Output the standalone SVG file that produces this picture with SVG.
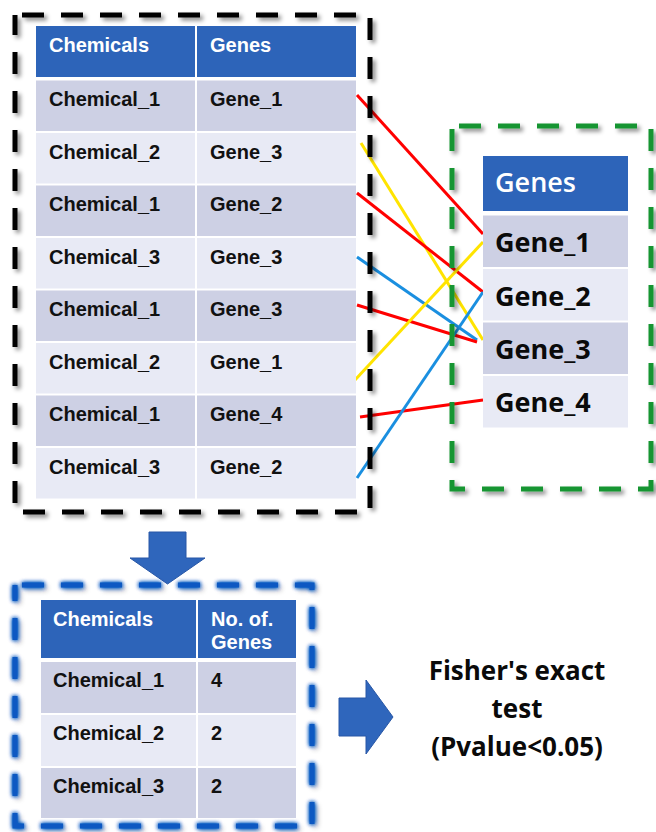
<svg xmlns="http://www.w3.org/2000/svg" width="656" height="832" viewBox="0 0 656 832">
  <defs>
    <style>
      .hdr { fill: #2D64B9; }
      .rowA { fill: #CDD0E4; }
      .rowB { fill: #E8EAF5; }
      .t { font-family: "Liberation Sans", Arial, sans-serif; font-weight: bold; font-size: 20px; fill: #111; }
      .th { font-family: "Liberation Sans", Arial, sans-serif; font-weight: bold; font-size: 20px; fill: #fff; }
      .g { font-family: "Open Sans", "Noto Sans", sans-serif; font-weight: bold; font-size: 27px; fill: #0a0a0a; }
      .gh { font-family: "Open Sans", "Noto Sans", sans-serif; font-weight: 600; font-size: 27px; fill: #fff; }
      .f { font-family: "Open Sans", "Noto Sans", sans-serif; font-weight: bold; font-size: 26px; fill: #0a0a0a; text-anchor: middle; }
      .frame { fill: none; stroke-width: 5; stroke-dasharray: 22 17; stroke-dashoffset: 32; }
      .link { stroke-width: 3; fill: none; }
      .red { stroke: #FF0000; }
      .yel { stroke: #FFE400; }
      .blu { stroke: #1A8FE0; }
      .block { fill: #2F66BC; stroke: #2857A6; stroke-width: 1; }
    </style>
    <filter id="shadow" x="-10%" y="-10%" width="125%" height="125%">
      <feDropShadow dx="3" dy="3" stdDeviation="2" flood-color="#000" flood-opacity="0.45"/>
    </filter>
    <filter id="glow" x="-10%" y="-10%" width="125%" height="125%">
      <feGaussianBlur in="SourceAlpha" stdDeviation="2.5" result="blur"/>
      <feOffset in="blur" dx="3" dy="3" result="off"/>
      <feFlood flood-color="#000" flood-opacity="0.35"/>
      <feComposite in2="off" operator="in" result="sh"/>
      <feGaussianBlur in="SourceGraphic" stdDeviation="2.2" result="halo"/>
      <feMerge>
        <feMergeNode in="sh"/>
        <feMergeNode in="halo"/>
        <feMergeNode in="halo"/>
        <feMergeNode in="SourceGraphic"/>
      </feMerge>
    </filter>
  </defs>

  <rect width="656" height="832" fill="#fff"/>

  <!-- links from chemical-gene pairs to the gene list -->
  <g id="connectors">
    <line class="link red" x1="357" y1="95" x2="483" y2="234"/>
    <line class="link yel" x1="361" y1="143" x2="483" y2="340"/>
    <line class="link red" x1="357" y1="193" x2="483" y2="292"/>
    <line class="link blu" x1="357" y1="257" x2="477" y2="340"/>
    <line class="link red" x1="357" y1="305" x2="477" y2="342"/>
    <line class="link yel" x1="355" y1="380" x2="483" y2="242"/>
    <line class="link red" x1="360" y1="417" x2="483" y2="400"/>
    <line class="link blu" x1="357" y1="478" x2="483" y2="292"/>
    <!-- block arrows -->
    <polygon id="arrow-down" class="block" points="149,532 186,532 186,558 205,558 167.5,584 130,558 149,558"/>
    <polygon id="arrow-right" class="block" points="339,698 366,698 366,680 393,717 366,754 366,736 339,736"/>
  </g>

  <!-- chemical / gene pair table -->
  <g id="pairs-table">
    <rect class="hdr" x="36" y="26" width="159" height="51"/>
    <rect class="hdr" x="197" y="26" width="159" height="51"/>
    <text class="th" x="49" y="52">Chemicals</text>
    <text class="th" x="210" y="52">Genes</text>

    <rect class="rowA" x="36" y="80.5" width="159" height="50.5"/>
    <rect class="rowA" x="197" y="80.5" width="159" height="50.5"/>
    <rect class="rowB" x="36" y="133" width="159" height="50.5"/>
    <rect class="rowB" x="197" y="133" width="159" height="50.5"/>
    <rect class="rowA" x="36" y="185.5" width="159" height="50.5"/>
    <rect class="rowA" x="197" y="185.5" width="159" height="50.5"/>
    <rect class="rowB" x="36" y="238" width="159" height="50.5"/>
    <rect class="rowB" x="197" y="238" width="159" height="50.5"/>
    <rect class="rowA" x="36" y="290.5" width="159" height="50.5"/>
    <rect class="rowA" x="197" y="290.5" width="159" height="50.5"/>
    <rect class="rowB" x="36" y="343" width="159" height="50.5"/>
    <rect class="rowB" x="197" y="343" width="159" height="50.5"/>
    <rect class="rowA" x="36" y="395.5" width="159" height="50.5"/>
    <rect class="rowA" x="197" y="395.5" width="159" height="50.5"/>
    <rect class="rowB" x="36" y="448" width="159" height="50.5"/>
    <rect class="rowB" x="197" y="448" width="159" height="50.5"/>

    <text class="t" x="49" y="106">Chemical_1</text><text class="t" x="210" y="106">Gene_1</text>
    <text class="t" x="49" y="158.5">Chemical_2</text><text class="t" x="210" y="158.5">Gene_3</text>
    <text class="t" x="49" y="211">Chemical_1</text><text class="t" x="210" y="211">Gene_2</text>
    <text class="t" x="49" y="263.5">Chemical_3</text><text class="t" x="210" y="263.5">Gene_3</text>
    <text class="t" x="49" y="316">Chemical_1</text><text class="t" x="210" y="316">Gene_3</text>
    <text class="t" x="49" y="368.5">Chemical_2</text><text class="t" x="210" y="368.5">Gene_1</text>
    <text class="t" x="49" y="421">Chemical_1</text><text class="t" x="210" y="421">Gene_4</text>
    <text class="t" x="49" y="473.5">Chemical_3</text><text class="t" x="210" y="473.5">Gene_2</text>

    <rect class="frame" x="15" y="15" width="355" height="497" stroke="#000" filter="url(#shadow)"/>
  </g>

  <!-- gene list -->
  <g id="gene-list">
    <rect class="hdr" x="483" y="156" width="145" height="55"/>
    <text class="gh" x="495" y="192">Genes</text>
    <rect class="rowA" x="483" y="215.5" width="145" height="51.5"/>
    <rect class="rowB" x="483" y="269" width="145" height="51.5"/>
    <rect class="rowA" x="483" y="322.5" width="145" height="51.5"/>
    <rect class="rowB" x="483" y="376" width="145" height="51.5"/>
    <text class="g" x="495" y="252">Gene_1</text>
    <text class="g" x="495" y="306">Gene_2</text>
    <text class="g" x="495" y="359">Gene_3</text>
    <text class="g" x="495" y="412">Gene_4</text>
    <rect class="frame" x="452" y="126" width="199" height="363" stroke="#159533" filter="url(#shadow)"/>
  </g>

  <!-- genes counted per chemical -->
  <g id="count-table">
    <rect class="hdr" x="41" y="600" width="155" height="58"/>
    <rect class="hdr" x="198" y="600" width="98" height="58"/>
    <text class="th" x="53" y="626">Chemicals</text>
    <text class="th" x="211" y="626">No. of.</text>
    <text class="th" x="211" y="649">Genes</text>
    <rect class="rowA" x="41" y="662" width="155" height="51"/>
    <rect class="rowA" x="198" y="662" width="98" height="51"/>
    <rect class="rowB" x="41" y="715" width="155" height="51"/>
    <rect class="rowB" x="198" y="715" width="98" height="51"/>
    <rect class="rowA" x="41" y="768" width="155" height="50"/>
    <rect class="rowA" x="198" y="768" width="98" height="50"/>
    <text class="t" x="53" y="687">Chemical_1</text><text class="t" x="211" y="687">4</text>
    <text class="t" x="53" y="740">Chemical_2</text><text class="t" x="211" y="740">2</text>
    <text class="t" x="53" y="793">Chemical_3</text><text class="t" x="211" y="793">2</text>
    <rect class="frame" x="15" y="585" width="297" height="241" stroke="#0A58C2" stroke-width="4" filter="url(#glow)"/>
  </g>

  <!-- statistical test label -->
  <g id="fisher-test">
    <text class="f" x="517" y="680">Fisher's exact</text>
    <text class="f" x="517" y="718">test</text>
    <text class="f" x="517" y="756">(Pvalue&lt;0.05)</text>
  </g>
</svg>
